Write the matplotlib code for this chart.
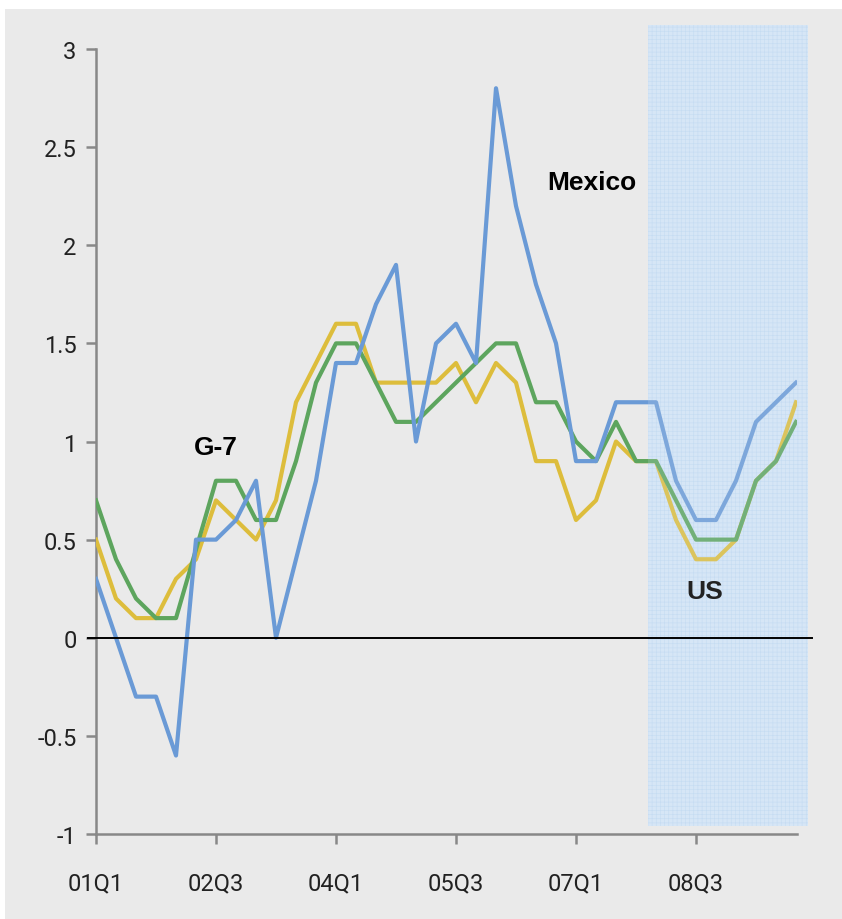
import matplotlib
matplotlib.use("Agg")
import matplotlib.pyplot as plt
from matplotlib.patches import Rectangle
import numpy as np

quarters = [f"{y:02d}Q{q}" for y in range(1, 10) for q in range(1, 5)]
tick_labels = ["01Q1", "02Q3", "04Q1", "05Q3", "07Q1", "08Q3"]

mexico = [0.3, 0.0, -0.3, -0.3, -0.6, 0.5, 0.5, 0.6, 0.8, 0.0,
          0.4, 0.8, 1.4, 1.4, 1.7, 1.9, 1.0, 1.5, 1.6, 1.4,
          2.8, 2.2, 1.8, 1.5, 0.9, 0.9, 1.2, 1.2, 1.2, 0.8,
          0.6, 0.6, 0.8, 1.1, 1.2, 1.3]
g7 = [0.7, 0.4, 0.2, 0.1, 0.1, 0.45, 0.8, 0.8, 0.6, 0.6,
      0.9, 1.3, 1.5, 1.5, 1.3, 1.1, 1.1, 1.2, 1.3, 1.4,
      1.5, 1.5, 1.2, 1.2, 1.0, 0.9, 1.1, 0.9, 0.9, 0.7,
      0.5, 0.5, 0.5, 0.8, 0.9, 1.1]
us = [0.5, 0.2, 0.1, 0.1, 0.3, 0.4, 0.7, 0.6, 0.5, 0.7,
      1.2, 1.4, 1.6, 1.6, 1.3, 1.3, 1.3, 1.3, 1.4, 1.2,
      1.4, 1.3, 0.9, 0.9, 0.6, 0.7, 1.0, 0.9, 0.9, 0.6,
      0.4, 0.4, 0.5, 0.8, 0.9, 1.2]

shade_start, shade_end = "08Q1", "09Q4"

plt.rcParams["hatch.linewidth"] = 0.4
fig = plt.figure(figsize=(8.42, 9.2), dpi=100)
fig.patch.set_facecolor("white")
fig.patches.append(Rectangle((5/842, 0), 1, 910/920, transform=fig.transFigure,
                             facecolor="#EAEAEA", edgecolor="none", zorder=-10))

ax = fig.add_axes([96/842, 1-835/920, 701/842, 785/920])
ax.set_facecolor("none")
x = np.arange(len(quarters))

ax.plot(x, us, color="#DDBD3C", lw=3, zorder=3)
ax.plot(x, g7, color="#5DA55E", lw=3, zorder=4)
ax.plot(x, mexico, color="#6A9AD6", lw=3, zorder=5)

ax.set_xlim(0, len(quarters) - 0.95)
ax.set_ylim(-1, 3)

xs = quarters.index(shade_start) - 0.4
xe = quarters.index(shade_end) + 0.6
ax.add_patch(Rectangle((xs, -0.96), xe - xs, 4.08, facecolor="#D6E6F6",
                       edgecolor="#C2DAF2", hatch="++++", lw=0, zorder=1,
                       clip_on=False))
ax.add_patch(Rectangle((xs, -0.96), xe - xs, 4.08, facecolor="#D6E6F6",
                       alpha=0.18, edgecolor="none", zorder=6, clip_on=False))

ax.plot([-0.4, 35.8], [0, 0], color="black", lw=1.4, zorder=7, clip_on=False)

ax.set_xticks([quarters.index(t) for t in tick_labels])
ax.set_xticklabels(tick_labels)
ax.set_yticks(np.arange(-1, 3.01, 0.5))
ax.set_yticklabels(["-1", "-0.5", "0", "0.5", "1", "1.5", "2", "2.5", "3"])

fam = ["Roboto", "DejaVu Sans"]
for lab in ax.get_xticklabels() + ax.get_yticklabels():
    lab.set_family(fam)
    lab.set_fontsize(17)
    lab.set_color("#222222")

for s in ["top", "right"]:
    ax.spines[s].set_visible(False)
for s in ["left", "bottom"]:
    ax.spines[s].set_color("#888888")
    ax.spines[s].set_linewidth(1.8)
ax.tick_params(axis="both", direction="out", length=7, width=1.8, color="#888888")
ax.tick_params(axis="x", pad=20)
ax.tick_params(axis="y", pad=7)

ax.text(24.78, 2.32, "Mexico", fontsize=19, fontweight="bold", ha="center",
        va="center", color="black", family="Liberation Sans", zorder=8)
ax.text(6.0, 0.97, "G-7", fontsize=19, fontweight="bold", ha="center",
        va="center", color="black", family="Liberation Sans", zorder=8)
ax.text(30.45, 0.24, "US", fontsize=19, fontweight="bold", ha="center",
        va="center", color="#222222", family="Liberation Sans", zorder=8)

fig.savefig("out.png", dpi=100)
